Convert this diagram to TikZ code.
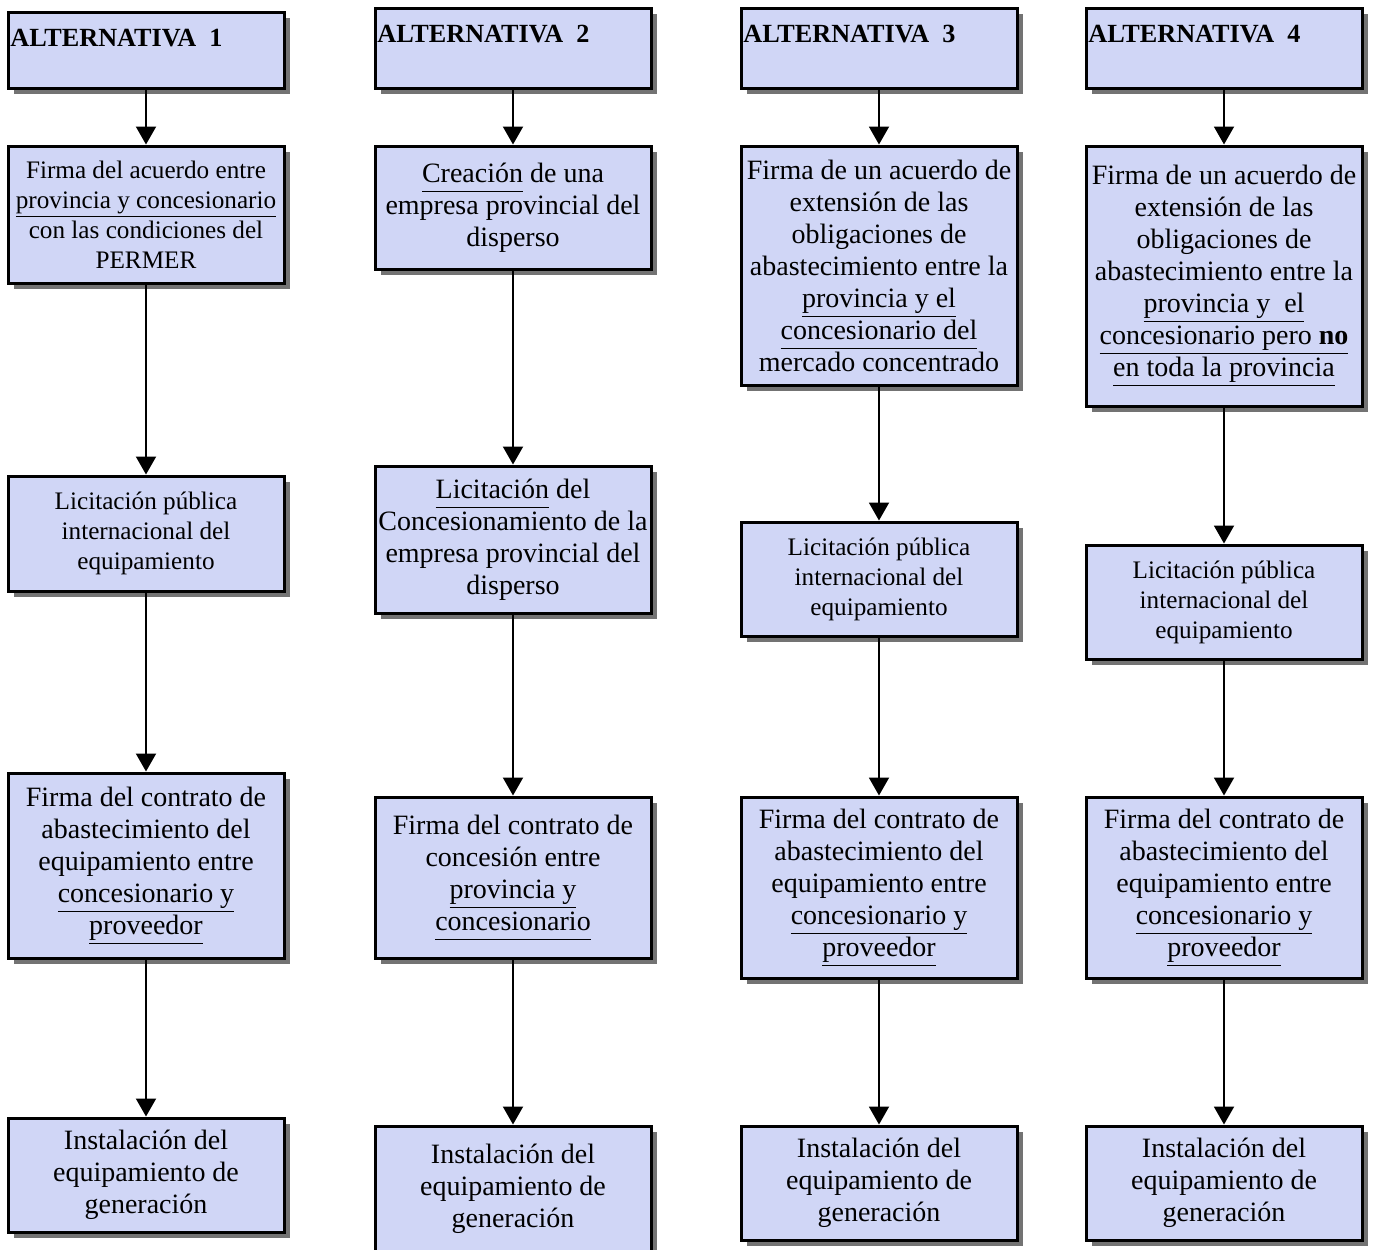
\documentclass[tikz,border=0pt]{standalone}
\usepackage{fontspec}
\setmainfont{Liberation Serif}
\usetikzlibrary{arrows.meta,shadows}

\definecolor{fondo}{RGB}{208,214,246}
\newcommand{\grande}{\fontsize{14}{16}\selectfont}
\newcommand{\chico}{\fontsize{12.6}{15}\selectfont}
\newcommand{\subr}[1]{\underline{\smash{#1}\vphantom{y}}}

\tikzset{
  caja/.style={draw, line width=1.5pt, fill=fondo, minimum width=138pt, inner sep=1pt,
    align=center, font=\grande,
    drop shadow={shadow xshift=3pt, shadow yshift=-3pt, fill=black!55, opacity=1}},
  chica/.style={font=\chico},
  titulo/.style={anchor=north west, inner sep=0pt, font=\fontsize{13.1}{15}\selectfont\bfseries},
  flecha/.style={line width=1pt, -{Triangle[width=10pt,length=9pt]}}
}

\begin{document}
\begin{tikzpicture}[x=0.5pt, y=-0.5pt]
    \useasboundingbox (0,0) rectangle (1375,1249);

    % Alternativa 1
    \node[caja, minimum height=38pt] (t1) at (146,50) {};
    \node[titulo] (t1txt) at (10,29) {ALTERNATIVA\ \ 1};
    \node[caja, chica, minimum height=68.5pt] (a1) at (146,214.5)
        {Firma del acuerdo entre\\ \subr{provincia y concesionario}\\ con las condiciones del\\ PERMER};
    \node[caja, chica, minimum height=57.5pt] (a2) at (146,533.5)
        {Licitación pública\\ internacional del\\ equipamiento};
    \node[caja, minimum height=92.5pt] (a3) at (146,865.5)
        {Firma del contrato de\\ abastecimiento del\\ equipamiento entre\\ \subr{concesionario y}\\ \subr{proveedor}};
    \node[caja, minimum height=57pt] (a4) at (146,1175)
        {Instalación del\\ equipamiento de\\ generación};

    % Alternativa 2
    \node[caja, minimum height=40pt] (t2) at (513,48) {};
    \node[titulo] (t2txt) at (377,25) {ALTERNATIVA\ \ 2};
    \node[caja, minimum height=61.5pt] (b1) at (513,207.5)
        {\subr{Creación} de una\\ empresa provincial del\\ disperso};
    \node[caja, minimum height=73.5pt] (b2) at (513,539.5)
        {\subr{Licitación} del\\ Concesionamiento de la\\ empresa provincial del\\ disperso};
    \node[caja, minimum height=80.5pt] (b3) at (513,877.5)
        {Firma del contrato de\\ concesión entre\\ \subr{provincia y}\\ \subr{concesionario}};
    \node[caja, minimum height=63pt] (b4) at (513,1189)
        {Instalación del\\ equipamiento de\\ generación};

    % Alternativa 3
    \node[caja, minimum height=40pt] (t3) at (879,48) {};
    \node[titulo] (t3txt) at (743,25) {ALTERNATIVA\ \ 3};
    \node[caja, minimum height=119.5pt] (c1) at (879,265.5)
        {Firma de un acuerdo de\\ extensión de las\\ obligaciones de\\ abastecimiento entre la\\ \subr{provincia y el}\\ \subr{concesionario del}\\ mercado concentrado};
    \node[caja, chica, minimum height=57pt] (c2) at (879,579)
        {Licitación pública\\ internacional del\\ equipamiento};
    \node[caja, minimum height=90.5pt] (c3) at (879,887.5)
        {Firma del contrato de\\ abastecimiento del\\ equipamiento entre\\ \subr{concesionario y}\\ \subr{proveedor}};
    \node[caja, minimum height=57pt] (c4) at (879,1183)
        {Instalación del\\ equipamiento de\\ generación};

    % Alternativa 4
    \node[caja, minimum height=40pt] (t4) at (1224,48) {};
    \node[titulo] (t4txt) at (1088,25) {ALTERNATIVA\ \ 4};
    \node[caja, minimum height=130pt] (d1) at (1224,276)
        {Firma de un acuerdo de\\ extensión de las\\ obligaciones de\\ abastecimiento entre la\\ \subr{provincia y\ \ el}\\ \subr{concesionario pero \textbf{no}}\\ \subr{en toda la provincia}};
    \node[caja, chica, minimum height=57pt] (d2) at (1224,602)
        {Licitación pública\\ internacional del\\ equipamiento};
    \node[caja, minimum height=90.5pt] (d3) at (1224,887.5)
        {Firma del contrato de\\ abastecimiento del\\ equipamiento entre\\ \subr{concesionario y}\\ \subr{proveedor}};
    \node[caja, minimum height=57pt] (d4) at (1224,1183)
        {Instalación del\\ equipamiento de\\ generación};

    % Flechas
    \foreach \c in {a,b,c,d} {
        \draw[flecha] (\c1) -- (\c2);
        \draw[flecha] (\c2) -- (\c3);
        \draw[flecha] (\c3) -- (\c4);
    }
    \draw[flecha] (t1) -- (a1);
    \draw[flecha] (t2) -- (b1);
    \draw[flecha] (t3) -- (c1);
    \draw[flecha] (t4) -- (d1);
\end{tikzpicture}
\end{document}
